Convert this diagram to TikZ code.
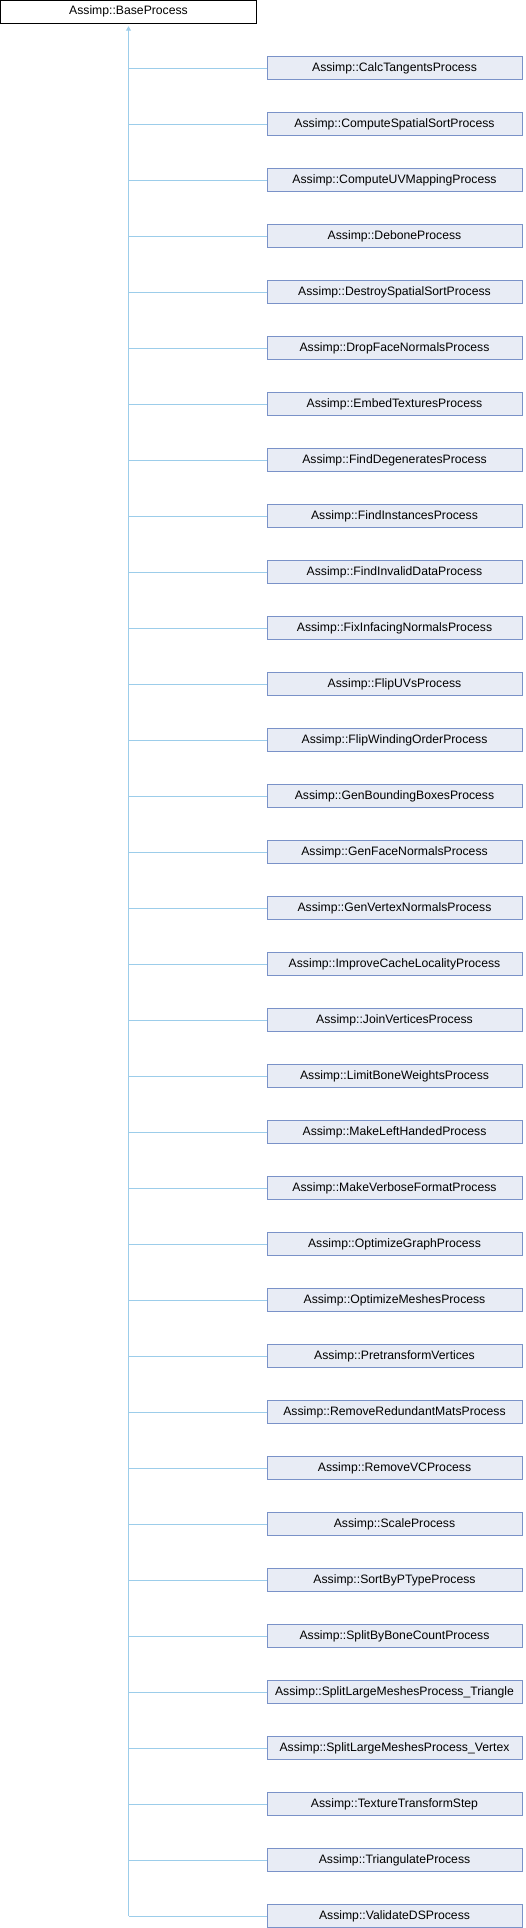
\documentclass[tikz,border=0pt]{standalone}
\usepackage{fontspec}
\setmainfont{Liberation Sans}
\usetikzlibrary{arrows.meta, positioning}
\definecolor{boxfill}{HTML}{E8ECF5}
\definecolor{boxline}{HTML}{7A92C8}
\definecolor{edgeblue}{HTML}{9CCDEA}

\tikzset{
  cls/.style={draw=boxline, fill=boxfill, line width=1pt, minimum width=255pt, minimum height=23pt, inner sep=0pt, font=\fontsize{12.2}{14}\selectfont},
  basecls/.style={draw=black, fill=white, line width=1pt, minimum width=256pt, minimum height=23pt, inner sep=0pt, font=\fontsize{12.2}{14}\selectfont},
  edge/.style={draw=edgeblue, line width=1pt}
}

\begin{document}
\begin{tikzpicture}[x=1pt,y=1pt]

        % Khung ảnh
        \useasboundingbox (0,0) rectangle (526,-1928);

        % Lớp cơ sở
        \node[basecls] (base) at (128.5,-11.7) {Assimp::BaseProcess};

        % Các lớp con
        \foreach \name [count=\i from 0] in {CalcTangentsProcess, ComputeSpatialSortProcess, ComputeUVMappingProcess, DeboneProcess, DestroySpatialSortProcess, DropFaceNormalsProcess, EmbedTexturesProcess, FindDegeneratesProcess, FindInstancesProcess, FindInvalidDataProcess, FixInfacingNormalsProcess, FlipUVsProcess, FlipWindingOrderProcess, GenBoundingBoxesProcess, GenFaceNormalsProcess, GenVertexNormalsProcess, ImproveCacheLocalityProcess, JoinVerticesProcess, LimitBoneWeightsProcess, MakeLeftHandedProcess, MakeVerboseFormatProcess, OptimizeGraphProcess, OptimizeMeshesProcess, PretransformVertices, RemoveRedundantMatsProcess, RemoveVCProcess, ScaleProcess, SortByPTypeProcess, SplitByBoneCountProcess, SplitLargeMeshesProcess\_Triangle, SplitLargeMeshesProcess\_Vertex, TextureTransformStep, TriangulateProcess, ValidateDSProcess}
        {
          \node[cls] (c\i) at (394.5,-68-56*\i) {Assimp::\name}; % Lớp con
          \coordinate (j\i) at (base.south |- c\i.west); % Điểm nối
          \draw[edge] (j\i) -- (c\i.west); % Nhánh ngang
        }

        % Trục dọc với mũi tên kế thừa
        \draw[edge, -{Triangle[length=4.5pt, width=5pt]}] (j33) -- ([yshift=-2.5pt]base.south);

\end{tikzpicture}
\end{document}
